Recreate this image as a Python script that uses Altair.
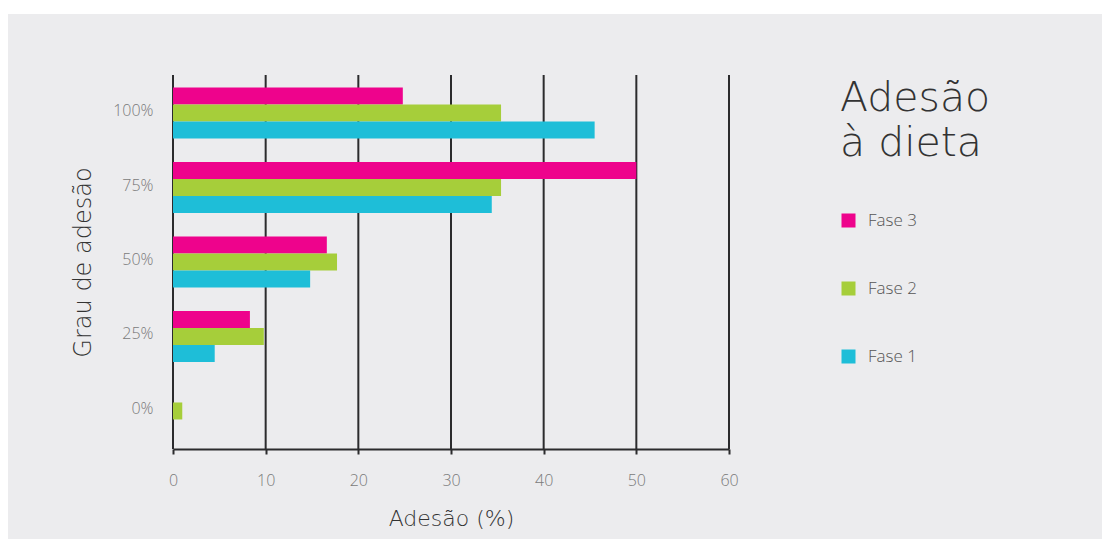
import altair as alt
import pandas as pd

grau = ["100%", "75%", "50%", "25%", "0%"]
fases = ["Fase 3", "Fase 2", "Fase 1"]
fase1 = [45.5, 34.4, 14.8, 4.5, 0.0]
fase2 = [35.4, 35.4, 17.7, 9.8, 1.0]
fase3 = [24.8, 50.0, 16.6, 8.3, 0.0]
x_ticks = [0, 10, 20, 30, 40, 50, 60]
colors = ["#EE038C", "#A6CE3A", "#1EBED8"]

rows = []
for i, g in enumerate(grau):
    rows.append({"Grau": g, "Fase": "Fase 3", "Valor": fase3[i]})
    rows.append({"Grau": g, "Fase": "Fase 2", "Valor": fase2[i]})
    rows.append({"Grau": g, "Fase": "Fase 1", "Valor": fase1[i]})
df = pd.DataFrame(rows)
grid_df = pd.DataFrame({"x": x_ticks})

W, H = 556, 374
PAD_L, PAD_T = 173, 75
TOTAL_W, TOTAL_H = 1102, 539
DARK = "#2b2b2d"
LABEL = "#7a7a7a"
TITLE_FONT = "DejaVu Sans"

xscale = alt.Scale(domain=[0, 60], nice=False)

bg = alt.Chart(grid_df).mark_rect(color="#ECECEE").encode(
    x=alt.value(8 - PAD_L), x2=alt.value(TOTAL_W - PAD_L),
    y=alt.value(14 - PAD_T), y2=alt.value(TOTAL_H - PAD_T)
).transform_filter(alt.datum.x == 0)

grid = alt.Chart(grid_df).mark_rule(color=DARK, strokeWidth=2).encode(
    x=alt.X("x:Q", scale=xscale, title="Adesão (%)")
)

bars = alt.Chart(df).mark_bar(size=17).encode(
    x=alt.X("Valor:Q", scale=xscale,
            axis=alt.Axis(values=x_ticks, grid=False, domain=True, domainColor=DARK,
                          domainWidth=2, ticks=True, tickSize=5, tickWidth=2,
                          tickColor=DARK, labelPadding=18, labelFontSize=16,
                          labelFontWeight=300, labelFlush=False,
                          labelColor=LABEL, labelFont="Open Sans", zindex=2,
                          title="Adesão (%)", titleFontSize=22, titleFontWeight=200,
                          titleFont=TITLE_FONT, titleColor="#333333", titlePadding=20)),
    y=alt.Y("Grau:N", sort=grau,
            scale=alt.Scale(paddingInner=0.315, paddingOuter=0.168),
            axis=alt.Axis(domain=False, ticks=False, grid=False, labelPadding=20,
                          labelFontSize=16, labelFontWeight=300,
                          labelColor=LABEL, labelFont="Open Sans",
                          labelOffset=-2, zindex=2,
                          title="Grau de adesão", titleFontSize=24, titleFontWeight=200,
                          titleFont=TITLE_FONT, titleColor="#333333", titlePadding=17)),
    yOffset=alt.YOffset("Fase:N", sort=fases, scale=alt.Scale(paddingInner=0, paddingOuter=0)),
    color=alt.Color("Fase:N", sort=fases,
                    scale=alt.Scale(domain=fases, range=colors),
                    legend=alt.Legend(orient="none", legendX=667, legendY=4,
                                      title=["Adesão", "à dieta"], titleFontSize=41,
                                      titleFontWeight=200, titleFont=TITLE_FONT,
                                      titleColor="#333333", titleLineHeight=45,
                                      titlePadding=47, symbolType="square",
                                      symbolSize=196, symbolStrokeWidth=0,
                                      labelFontSize=17, labelFontWeight=300,
                                      labelColor="#555555",
                                      labelFont="Open Sans", labelOffset=11,
                                      rowPadding=50, titleLimit=400, zindex=2)),
)

chart = alt.layer(bg, grid, bars).properties(
    width=W, height=H,
    autosize=alt.AutoSizeParams(type="none"),
    padding={"left": PAD_L, "top": PAD_T, "right": TOTAL_W - PAD_L - W,
             "bottom": TOTAL_H - PAD_T - H},
    background="white",
).configure_view(stroke=None)

chart.save("out.html", embed_options={"renderer": "svg", "actions": False})
